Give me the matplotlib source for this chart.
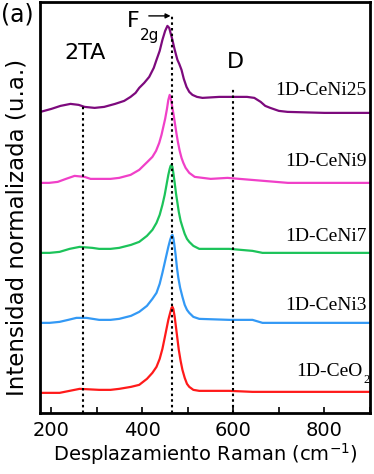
import numpy as np
import matplotlib
matplotlib.use('Agg')
import matplotlib.pyplot as plt
from matplotlib.ticker import MultipleLocator

# Raman shift (cm-1) and normalized intensity (offset)
ceni25_x = [176, 200, 220, 242, 260, 273, 295, 316, 340, 360, 374, 385, 393, 404, 415, 425, 431, 438, 444, 450, 455, 459, 463, 466, 470, 474, 477, 481, 486, 491, 497, 503, 510, 520, 532, 569, 607, 630, 646, 660, 670, 681, 700, 719, 800, 900]
ceni25_y = [301, 304, 307, 309, 308, 306, 305, 306, 309, 312, 316, 320, 325, 330, 336, 345, 353, 362, 373, 382, 387, 385, 378, 373, 365, 358, 353, 349, 343, 334, 326, 321, 318, 316, 315, 316, 316, 316, 315, 311, 307, 305, 302, 301, 300, 300]

ceni9_x = [176, 195, 214, 232, 251, 273, 286, 310, 330, 349, 374, 393, 411, 422, 430, 437, 442, 446, 450, 454, 457, 460, 463, 466, 469, 472, 475, 478, 482, 486, 490, 495, 503, 515, 550, 587, 640, 720, 900]
ceni9_y = [230, 230, 231, 234, 237, 236, 234, 234, 234, 235, 238, 243, 251, 256, 262, 270, 278, 286, 294, 304, 313, 318, 313, 305, 297, 288, 279, 271, 262, 255, 250, 245, 240, 236, 234, 235, 233, 230, 230]

ceni7_x = [174, 196, 218, 240, 262, 290, 305, 330, 349, 375, 393, 410, 422, 431, 438, 444, 449, 453, 457, 460, 462, 464, 466, 468, 471, 474, 477, 480, 484, 488, 493, 498, 503, 512, 525, 591, 642, 664, 900]
ceni7_y = [160, 160, 161, 164, 166, 165, 164, 164, 165, 168, 171, 177, 183, 190, 198, 208, 218, 228, 238, 244, 247, 248, 246, 240, 230, 219, 210, 201, 192, 186, 179, 174, 171, 167, 164, 164, 162, 160, 160]

ceni3_x = [174, 196, 218, 237, 255, 277, 305, 330, 349, 375, 393, 410, 422, 431, 438, 444, 449, 453, 457, 461, 464, 466, 468, 470, 473, 476, 479, 483, 488, 493, 498, 503, 512, 525, 591, 642, 664, 900]
ceni3_y = [90, 90, 91, 93, 95, 95, 93, 93, 94, 97, 101, 107, 114, 120, 129, 140, 150, 158, 166, 173, 177, 178, 175, 169, 158, 145, 135, 125, 116, 108, 103, 100, 96, 94, 93, 93, 90, 90]

ceo2_x = [174, 218, 240, 262, 305, 330, 349, 375, 393, 410, 422, 431, 438, 444, 449, 453, 457, 461, 464, 466, 468, 471, 474, 477, 480, 484, 488, 493, 498, 503, 512, 525, 591, 642, 900]
ceo2_y = [20, 20, 22, 24, 23, 23, 24, 26, 28, 34, 40, 46, 54, 64, 75, 84, 93, 100, 105, 106, 104, 96, 85, 74, 63, 52, 43, 35, 29, 26, 23, 22, 22, 21, 21]

series = [
    (ceo2_x, ceo2_y, '#ff1a1a', '1D-CeO', 41),
    (ceni3_x, ceni3_y, '#3399f5', '1D-CeNi3', 107),
    (ceni7_x, ceni7_y, '#1cc35a', '1D-CeNi7', 176),
    (ceni9_x, ceni9_y, '#f040c8', '1D-CeNi9', 251),
    (ceni25_x, ceni25_y, '#7d0a7d', '1D-CeNi25', 322),
]

# dotted marker lines: position, top of the line
marks = [(270, 308), (466, 398), (600, 325)]

fig = plt.figure(figsize=(3.74, 4.74), dpi=100)
ax = fig.add_axes([0.107, 0.129, 0.882, 0.867])

for xs, ys, color, label, ly in series:
    ax.plot(np.array(xs), np.array(ys), color=color, lw=1.6)
    ax.text(884 if label == '1D-CeO' else 893, ly, label, ha='right', va='center',
            family='Liberation Serif', fontsize=14)
ax.text(886, 33, '2', ha='left', va='center', family='Liberation Serif', fontsize=9)

for xm, top in marks:
    ax.plot([xm, xm], [0, top], color='black', lw=1.5, ls=(0, (1.2, 1.5)))

ax.text(273, 360, '2TA', ha='center', va='center', fontsize=16)
ax.text(604, 351, 'D', ha='center', va='center', fontsize=16)
ax.text(380, 392, 'F', ha='center', va='center', fontsize=16)
ax.text(415, 377, '2g', ha='center', va='center', fontsize=11)
ax.annotate('', xy=(468, 397), xytext=(408, 397),
            arrowprops=dict(arrowstyle='-|>', color='black', lw=1, mutation_scale=7))
fig.text(0.003, 0.97, '(a)', ha='left', va='center', fontsize=17)

ax.set_xlim(175, 900)
ax.set_ylim(0, 411)
ax.set_yticks([])
ax.xaxis.set_major_locator(MultipleLocator(200))
ax.xaxis.set_minor_locator(MultipleLocator(100))
ax.tick_params(axis='x', which='both', direction='in', length=4, width=1.2, labelsize=14, pad=6)
for s in ax.spines.values():
    s.set_linewidth(2)

ax.set_xlabel('Desplazamiento Raman (cm$^{-1}$)', fontsize=14, labelpad=1)
ax.set_ylabel('Intensidad normalizada (u.a.)', fontsize=16.5)
ax.yaxis.set_label_coords(-0.035, 0.45)

fig.savefig('out.png', dpi=100)
